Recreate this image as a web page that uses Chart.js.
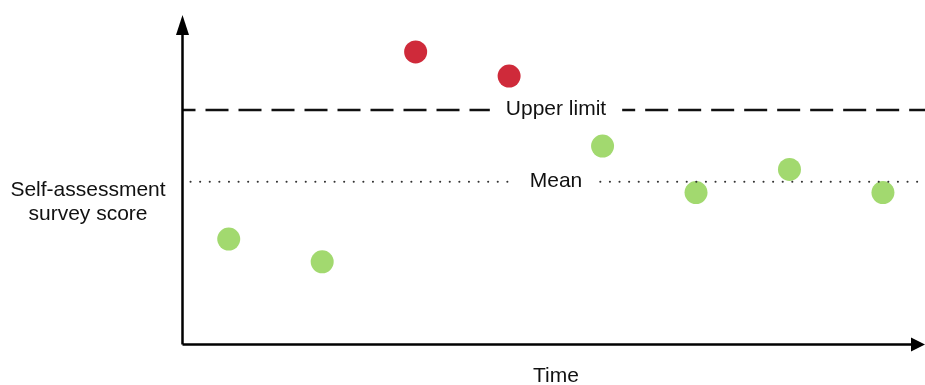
<!DOCTYPE html>
<html>
<head>
<meta charset="utf-8">
<script src="https://cdn.jsdelivr.net/npm/chart.js@4.4.0/dist/chart.umd.min.js"></script>
<style>
html, body { margin: 0; padding: 0; overflow: hidden; background: #fff; }
#wrap { width: 925px; height: 385px; }
#scoreChart { display: block; }
</style>
</head>
<body>
<div id="wrap"><canvas id="scoreChart" width="925" height="385"></canvas></div>
<script>
// data (y on a 0-10 score scale)
const periods = [0.5, 1.5, 2.5, 3.5, 4.5, 5.5, 6.5, 7.5];
const scores = [3.21, 2.52, 8.88, 8.15, 6.03, 4.62, 5.32, 4.62];
const upperLimit = 7.12;
const meanScore = 4.95;
const yTitle = ['Self-assessment', 'survey score'];
const xTitle = 'Time';

const red = '#cf2a3a';
const green = '#a2d96f';
const pointColors = scores.map(v => v > upperLimit ? red : green); // above the limit -> red

const FONT = '21px "Liberation Sans", Arial, sans-serif';

// draws the arrow axes, the reference lines and the titles
const controlPlugin = {
  id: 'control',
  afterDatasetsDraw(chart) {
    const ctx = chart.ctx;
    const xs = chart.scales.x, ys = chart.scales.y;
    const area = chart.chartArea;
    const x0 = xs.getPixelForValue(0) + 0.5;
    const y0 = ys.getPixelForValue(0) - 0.5;
    ctx.save();

    // reference lines with a gap for the label
    const refLine = (value, label, dash, offset, width, color, pad, startX, dy) => {
      const y = ys.getPixelForValue(value);
      ctx.font = FONT;
      const w = ctx.measureText(label).width;
      const cx = 556;
      ctx.strokeStyle = color;
      ctx.lineWidth = width;
      ctx.setLineDash(dash);
      ctx.lineDashOffset = offset;
      ctx.lineCap = dash[0] < 1 ? 'round' : 'butt';
      ctx.beginPath();
      ctx.moveTo(startX, y);
      ctx.lineTo(cx - w / 2 - pad, y);
      ctx.stroke();
      ctx.beginPath();
      ctx.moveTo(cx + w / 2 + pad, y);
      ctx.lineTo(area.right, y);
      ctx.stroke();
      ctx.setLineDash([]);
      ctx.fillStyle = '#111';
      ctx.textAlign = 'center';
      ctx.textBaseline = 'middle';
      ctx.fillText(label, cx, y + dy);
    };
    refLine(upperLimit, 'Upper limit', [23, 10], 10, 2.5, '#111', 16, x0, -1);
    refLine(meanScore, 'Mean', [0.1, 9.5], 0, 2, '#333', 18, x0 + 8, 0);

    // axes
    ctx.strokeStyle = '#000';
    ctx.fillStyle = '#000';
    ctx.lineWidth = 2.5;
    ctx.lineCap = 'butt';
    ctx.beginPath();
    ctx.moveTo(x0, y0);
    ctx.lineTo(x0, area.top + 18);
    ctx.moveTo(x0, y0);
    ctx.lineTo(area.right - 12, y0);
    ctx.stroke();
    // arrow heads
    ctx.beginPath();
    ctx.moveTo(x0, area.top);
    ctx.lineTo(x0 - 6.5, area.top + 20);
    ctx.lineTo(x0 + 6.5, area.top + 20);
    ctx.closePath();
    ctx.fill();
    ctx.beginPath();
    ctx.moveTo(area.right, y0);
    ctx.lineTo(area.right - 14, y0 - 7);
    ctx.lineTo(area.right - 14, y0 + 7);
    ctx.closePath();
    ctx.fill();

    // titles
    ctx.font = FONT;
    ctx.fillStyle = '#111';
    ctx.textAlign = 'center';
    ctx.textBaseline = 'middle';
    ctx.fillText(yTitle[0], 88, 190);
    ctx.fillText(yTitle[1], 88, 214);
    ctx.fillText(xTitle, 556, 376);
    ctx.restore();
  }
};

new Chart(document.getElementById('scoreChart').getContext('2d'), {
  type: 'scatter',
  data: {
    datasets: [{
      data: periods.map((p, i) => ({ x: p, y: scores[i] })),
      backgroundColor: pointColors,
      borderWidth: 0,
      pointRadius: 11.5,
      pointHoverRadius: 11.5,
      clip: false
    }]
  },
  options: {
    responsive: false,
    animation: false,
    layout: { autoPadding: false, padding: { left: 182, right: 0, top: 15, bottom: 40 } },
    plugins: { legend: { display: false }, tooltip: { enabled: false } },
    scales: {
      x: { type: 'linear', min: 0, max: 7.95, display: false },
      y: { type: 'linear', min: 0, max: 10, display: false }
    }
  },
  plugins: [controlPlugin]
});
</script>
</body>
</html>
